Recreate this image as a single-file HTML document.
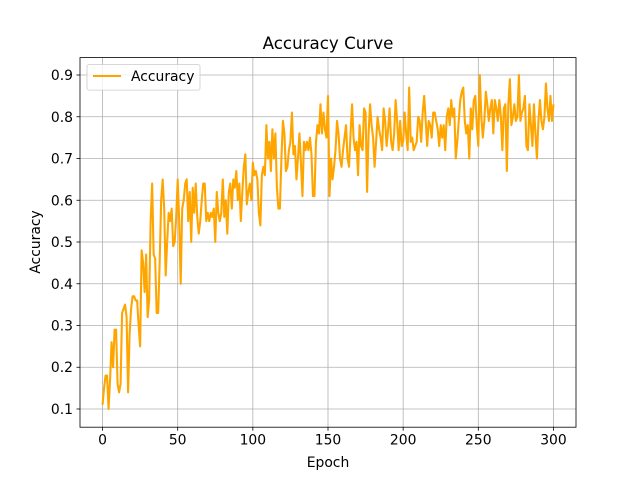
<!DOCTYPE html>
<html><head><meta charset="utf-8"><style>
html,body{margin:0;padding:0;background:#fff;}
svg text{font-family:"DejaVu Sans","Liberation Sans",sans-serif;fill:#000;}
</style></head><body>
<svg id="chart" width="640" height="480" xmlns="http://www.w3.org/2000/svg">
<rect width="640" height="480" fill="#fff"/>
<g id="grid"></g>
<g id="ticks"></g>
<path id="line" fill="none" stroke="#ffa500" stroke-width="2.08" stroke-linejoin="round"/>
<rect x="80" y="57.6" width="496" height="369.6" fill="none" stroke="#000" stroke-width="0.8"/>
<text x="328" y="49" font-size="16.7" text-anchor="middle">Accuracy Curve</text>
<text x="328" y="467" font-size="13.9" text-anchor="middle">Epoch</text>
<text transform="translate(40,242) rotate(-90)" font-size="13.9" text-anchor="middle">Accuracy</text>
<g>
<rect x="87" y="64.6" width="113" height="25.5" rx="2" fill="#fff" fill-opacity="0.8" stroke="#ccc" stroke-width="0.8"/>
<line x1="93" y1="76" x2="121" y2="76" stroke="#ffa500" stroke-width="2.08"/>
<text x="131" y="81" font-size="13.9">Accuracy</text>
</g>
</svg>
<script>
const xTicks = [0,50,100,150,200,250,300];
const yTicks = [0.1,0.2,0.3,0.4,0.5,0.6,0.7,0.8,0.9];
const yTickLabels = ["0.1","0.2","0.3","0.4","0.5","0.6","0.7","0.8","0.9"];
const accuracy = [
0.11,0.15,0.18,0.18,0.10,0.17,0.26,0.20,0.29,0.29,
0.16,0.14,0.16,0.33,0.34,0.35,0.32,0.14,0.28,0.34,
0.37,0.37,0.36,0.36,0.30,0.25,0.48,0.45,0.38,0.47,
0.32,0.36,0.55,0.64,0.47,0.46,0.33,0.33,0.45,0.60,
0.65,0.58,0.42,0.50,0.57,0.55,0.58,0.49,0.50,0.56,
0.65,0.55,0.40,0.58,0.60,0.64,0.65,0.55,0.62,0.50,
0.63,0.57,0.64,0.56,0.52,0.55,0.60,0.64,0.64,0.55,
0.57,0.55,0.57,0.56,0.58,0.50,0.62,0.57,0.55,0.57,
0.65,0.56,0.60,0.52,0.62,0.64,0.58,0.65,0.63,0.67,
0.60,0.64,0.55,0.62,0.68,0.71,0.59,0.62,0.64,0.60,
0.69,0.66,0.67,0.65,0.57,0.54,0.66,0.68,0.66,0.78,
0.70,0.74,0.67,0.77,0.70,0.76,0.63,0.58,0.58,0.70,
0.79,0.76,0.67,0.68,0.72,0.74,0.81,0.71,0.73,0.65,
0.70,0.76,0.69,0.61,0.74,0.72,0.74,0.72,0.75,0.71,
0.61,0.61,0.74,0.78,0.76,0.83,0.76,0.81,0.77,0.75,
0.85,0.61,0.70,0.65,0.68,0.72,0.79,0.76,0.70,0.68,
0.72,0.75,0.78,0.70,0.68,0.76,0.83,0.75,0.72,0.74,
0.66,0.78,0.73,0.72,0.82,0.81,0.62,0.76,0.83,0.78,
0.75,0.68,0.74,0.80,0.77,0.75,0.72,0.82,0.79,0.73,
0.77,0.82,0.74,0.72,0.76,0.84,0.79,0.72,0.79,0.73,
0.74,0.81,0.76,0.72,0.87,0.74,0.75,0.72,0.73,0.74,
0.80,0.79,0.74,0.81,0.85,0.79,0.73,0.79,0.78,0.75,
0.81,0.81,0.79,0.77,0.73,0.78,0.75,0.78,0.72,0.80,
0.82,0.78,0.84,0.80,0.82,0.70,0.74,0.79,0.84,0.86,
0.87,0.79,0.76,0.78,0.70,0.82,0.77,0.84,0.85,0.78,
0.73,0.90,0.80,0.75,0.79,0.86,0.83,0.79,0.82,0.84,
0.76,0.84,0.82,0.79,0.84,0.80,0.72,0.82,0.83,0.67,
0.83,0.89,0.78,0.80,0.83,0.79,0.80,0.90,0.79,0.81,
0.82,0.85,0.73,0.72,0.83,0.78,0.73,0.83,0.76,0.70,
0.79,0.84,0.79,0.77,0.80,0.88,0.82,0.79,0.85,0.79,0.83
];
const L=80,R=576,T=57.6,B=427.2, XMIN=-15, XMAX=315, YMIN=0.0564, YMAX=0.9417;
function xs(v){return L+(v-XMIN)/(XMAX-XMIN)*(R-L);}
function ys(v){return B-(v-YMIN)/(YMAX-YMIN)*(B-T);}
const NS="http://www.w3.org/2000/svg";
const grid=document.getElementById('grid'), ticks=document.getElementById('ticks');
function mk(tag,attrs,parent){const e=document.createElementNS(NS,tag);for(const k in attrs)e.setAttribute(k,attrs[k]);parent.appendChild(e);return e;}
xTicks.forEach(t=>{
  const x=xs(t);
  const g=mk('line',{x1:x,x2:x,y1:T,y2:B,stroke:'#b0b0b0','stroke-width':0.8},grid);
  
  
  const tk=mk('line',{x1:x,x2:x,y1:B,y2:B+3.5,stroke:'#000','stroke-width':0.8},ticks);
  
  
  const tx=mk('text',{x:x,y:B+17.5,'font-size':13.9,'text-anchor':'middle'},ticks);
  tx.textContent=String(t);
  
  
});
yTicks.forEach((t,i)=>{
  const y=ys(t);
  const g=mk('line',{x1:L,x2:R,y1:y,y2:y,stroke:'#b0b0b0','stroke-width':0.8},grid);
  
  
  const tk=mk('line',{x1:L-3.5,x2:L,y1:y,y2:y,stroke:'#000','stroke-width':0.8},ticks);
  
  
  const tx=mk('text',{x:L-7,y:y+5,'font-size':13.9,'text-anchor':'end'},ticks);
  tx.textContent=yTickLabels[i];
  
  
});
document.getElementById('line').setAttribute('d',accuracy.map((v,i)=>(i?'L':'M')+xs(i).toFixed(2)+','+ys(v).toFixed(2)).join(''));
</script>
</body></html>
